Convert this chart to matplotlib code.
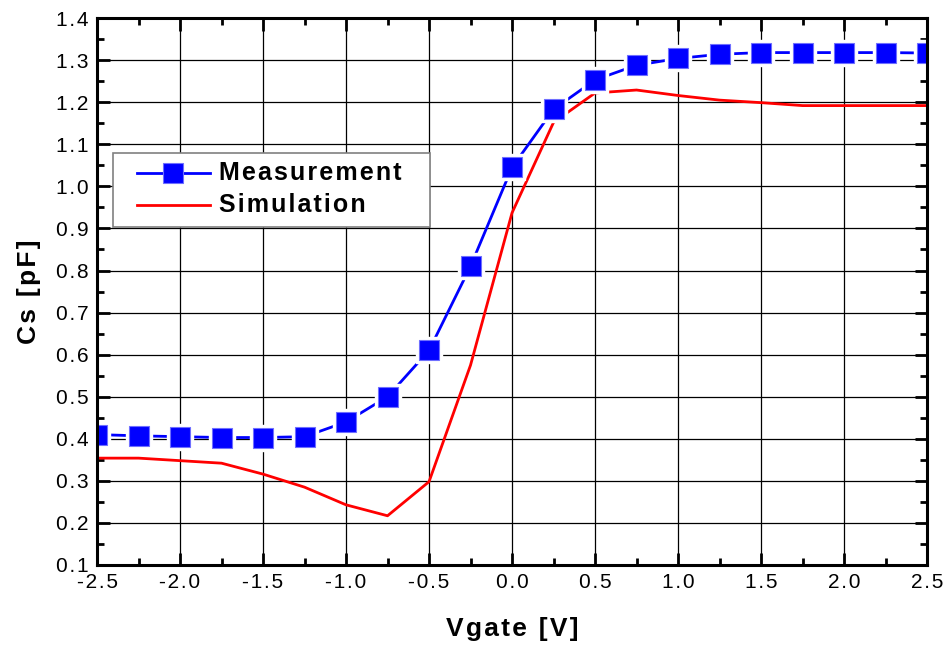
import numpy as np
import matplotlib
matplotlib.use("Agg")
import matplotlib.pyplot as plt
from matplotlib.lines import Line2D
from matplotlib.patches import Rectangle
from matplotlib.ticker import MultipleLocator, FuncFormatter

plt.rcParams['font.family'] = ['Liberation Sans', 'DejaVu Sans']

# data
vgate = [-2.5, -2.25, -2.0, -1.75, -1.5, -1.25, -1.0, -0.75, -0.5, -0.25,
         0.0, 0.25, 0.5, 0.75, 1.0, 1.25, 1.5, 1.75, 2.0, 2.25, 2.5]
meas = [0.41, 0.407, 0.405, 0.403, 0.403, 0.405, 0.44, 0.50, 0.61, 0.81,
        1.045, 1.183, 1.253, 1.288, 1.304, 1.314, 1.318, 1.318, 1.318, 1.318, 1.317]
sim = [0.354, 0.354, 0.348, 0.342, 0.316, 0.285, 0.243, 0.217, 0.298, 0.575,
       0.937, 1.152, 1.222, 1.229, 1.216, 1.205, 1.199, 1.192, 1.192, 1.192, 1.192]
labels = ['Measurement', 'Simulation']

HAIR = '\u200a'


def spaced(s):
    # Origin-style loose letter spacing
    return HAIR.join(s)


fig = plt.figure(figsize=(9.44, 6.46), dpi=100)
ax = fig.add_axes([0.1028, 0.1254, 0.8792, 0.8466])

ax.grid(True, which='major', color='black', linewidth=0.9, zorder=0)

ax.plot(vgate, meas, color='#0000ff', linewidth=2, zorder=3)
# white halo behind the squares, like Origin's gap around symbols
ax.plot(vgate, meas, linestyle='none', marker='s', markersize=19,
        markerfacecolor='white', markeredgecolor='white', zorder=4)
ax.plot(vgate, meas, linestyle='none', marker='s', markersize=15,
        markerfacecolor='#0000ff', markeredgecolor='#6f6fff',
        markeredgewidth=0.8, zorder=5)
ax.plot(vgate, sim, color='#ff0000', linewidth=2, zorder=2)

ax.set_xlim(-2.5, 2.5)
ax.set_ylim(0.1, 1.4)
ax.xaxis.set_major_locator(MultipleLocator(0.5))
ax.xaxis.set_minor_locator(MultipleLocator(0.25))
ax.yaxis.set_major_locator(MultipleLocator(0.1))
ax.yaxis.set_minor_locator(MultipleLocator(0.05))
fmt = FuncFormatter(lambda v, p: spaced('%.1f' % v))
ax.xaxis.set_major_formatter(fmt)
ax.yaxis.set_major_formatter(fmt)

ax.tick_params(which='both', direction='in', top=True, right=True,
               labelsize=15, width=2)
ax.tick_params(which='major', length=9, pad=6)
ax.tick_params(which='minor', length=5)
for s in ax.spines.values():
    s.set_linewidth(2.2)
    s.set_zorder(6)

ax.set_xlabel(spaced('Vgate [V]'), fontsize=19, fontweight='bold', labelpad=18)
ax.set_ylabel(spaced('Cs [pF]'), fontsize=19, fontweight='bold', labelpad=11)

# legend drawn by hand, in axes fractions
tr = ax.transAxes
ax.add_patch(Rectangle((0.0193, 0.618), 0.382, 0.135, transform=tr,
                       facecolor='white', edgecolor='#808080', linewidth=1.2,
                       zorder=7))
rows = [0.7166, 0.658]
ax.add_line(Line2D([0.0482, 0.136], [rows[0]] * 2, transform=tr,
                   color='#0000ff', linewidth=2, zorder=8))
ax.add_line(Line2D([0.0921], [rows[0]], transform=tr, marker='s',
                   markersize=15, markerfacecolor='#0000ff',
                   markeredgecolor='#6f6fff', markeredgewidth=0.8, zorder=8))
ax.add_line(Line2D([0.0482, 0.136], [rows[1]] * 2, transform=tr,
                   color='#ff0000', linewidth=2, zorder=8))
for lab, yy in zip(labels, rows):
    ax.text(0.147, yy, spaced(lab), transform=tr, fontsize=18,
            fontweight='bold', va='center', ha='left', zorder=8)

fig.savefig('out.png', dpi=100)
